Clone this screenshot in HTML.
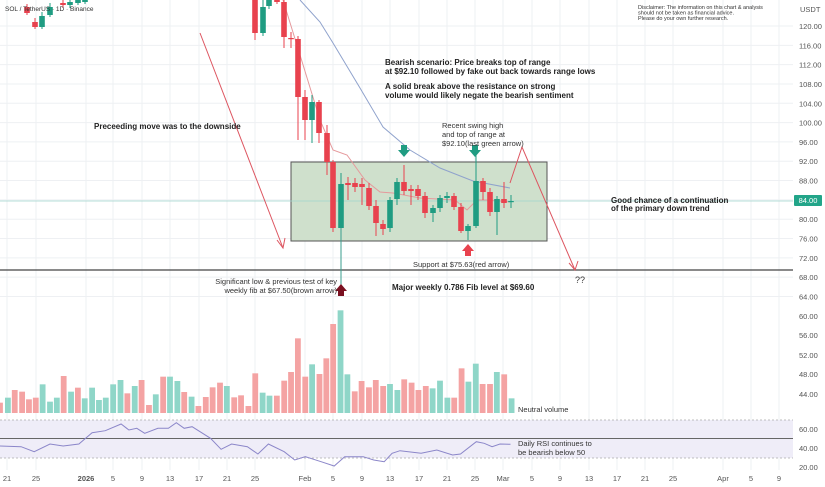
<!DOCTYPE html>
<html><head><meta charset="utf-8"><style>
html,body{margin:0;padding:0;background:#fff;width:825px;height:487px;overflow:hidden}
svg{display:block;font-family:"Liberation Sans",sans-serif}
.b{font-weight:bold;fill:#222;font-size:8px}
.n{fill:#333;font-size:7.5px}
.ax{fill:#555;font-size:7.5px}
</style></head><body>
<svg id="s" width="825" height="487" viewBox="0 0 825 487" xmlns="http://www.w3.org/2000/svg">
<g id="grid" stroke="#eef0f3" stroke-width="1"></g>
<rect x="0" y="420" width="793" height="38" fill="#efedf8"/>
<line x1="0" y1="420" x2="793" y2="420" stroke="#aaa" stroke-dasharray="2,2" stroke-width="0.8"/>
<line x1="0" y1="458" x2="793" y2="458" stroke="#aaa" stroke-dasharray="2,2" stroke-width="0.8"/>
<line x1="0" y1="438.5" x2="793" y2="438.5" stroke="#666" stroke-width="1"/>
<g id="vol"></g>
<rect x="291" y="162" width="256" height="79" fill="#cfe0cc" stroke="#555" stroke-width="1"/>
<line x1="0" y1="201" x2="793" y2="201" stroke="#9fd4cc" stroke-width="0.8"/>
<line x1="0" y1="270" x2="793" y2="270" stroke="#444" stroke-width="1.2"/>
<line x1="341" y1="228" x2="341" y2="290" stroke="#3a9e8e" stroke-width="1"/>
<polyline fill="none" stroke="#8fa2cc" stroke-width="1" points="300,0 320,22 333,43 360,88 383,127 410,150 440,168 473,181 510,188"/>
<polyline fill="none" stroke="#e5999c" stroke-width="1" points="283,0 300,55 320,120 333,150 347,155 365,180 380,192 393,193 420,198 455,200 467,210 477,200 490,200 510,202"/>
<g id="cd"></g>
<polyline fill="none" stroke="#dd5560" stroke-width="1" points="200,33 283,248"/>
<polyline fill="none" stroke="#dd5560" stroke-width="1" points="277,240 283,248 285,238"/>
<polyline fill="none" stroke="#dd5560" stroke-width="1" points="510,183 522,147 575,270"/>
<polyline fill="none" stroke="#dd5560" stroke-width="1" points="569,263 575,270 578,261"/>
<path d="M401,145h6v5h3l-6,7l-6,-7h3z" fill="#1f9c82"/>
<path d="M472,145h6v5h3l-6,7l-6,-7h3z" fill="#1f9c82"/>
<path d="M465,256h6v-5h3l-6,-7l-6,7h3z" fill="#e8424e"/>
<path d="M338,296h6v-5h3l-6,-7l-6,7h3z" fill="#7a1020"/>
<polyline id="rsi" fill="none" stroke="#8b86c9" stroke-width="1"/>
<text x="5" y="11" class="n" style="font-size:6.5px">SOL / TetherUS · 1D · Binance</text>
<text x="638" y="9" class="n" style="font-size:5.5px">Disclaimer: The information on this chart &amp; analysis</text>
<text x="638" y="14.5" class="n" style="font-size:5.5px">should not be taken as financial advice.</text>
<text x="638" y="20" class="n" style="font-size:5.5px">Please do your own further research.</text>
<text x="800" y="12" class="ax">USDT</text>
<text x="385" y="65" class="b">Bearish scenario: Price breaks top of range</text>
<text x="385" y="74" class="b">at $92.10 followed by fake out back towards range lows</text>
<text x="385" y="89" class="b">A solid break above the resistance on strong</text>
<text x="385" y="98" class="b">volume would likely negate the bearish sentiment</text>
<text x="94" y="129" class="b">Preceeding move was to the downside</text>
<text x="442" y="128" class="n">Recent swing high</text>
<text x="442" y="137" class="n">and top of range at</text>
<text x="442" y="146" class="n">$92.10(last green arrow)</text>
<text x="611" y="203" class="b">Good chance of a continuation</text>
<text x="611" y="211" class="b">of the primary down trend</text>
<text x="413" y="267" class="n">Support at $75.63(red arrow)</text>
<text x="337" y="284" class="n" text-anchor="end">Significant low &amp; previous test of key</text>
<text x="337" y="293" class="n" text-anchor="end">weekly fib at $67.50(brown arrow)</text>
<text x="392" y="290" class="b">Major weekly 0.786 Fib level at $69.60</text>
<text x="575" y="283" class="n" style="font-size:9px">??</text>
<text x="518" y="412" class="n">Neutral volume</text>
<text x="518" y="446" class="n">Daily RSI continues to</text>
<text x="518" y="455" class="n">be bearish below 50</text>
<g id="axis"></g>
<rect x="794" y="195" width="28" height="11" fill="#22a589" rx="1"/>
<text x="808" y="203" text-anchor="middle" style="font-size:7.5px;fill:#fff">84.00</text>
</svg>
<script>
var NS="http://www.w3.org/2000/svg";
function el(p,t,a,txt){var e=document.createElementNS(NS,t);for(var k in a)e.setAttribute(k,a[k]);if(txt)e.textContent=txt;document.getElementById(p).appendChild(e);return e;}
var dates=[[7,"21"],[36,"25"],[86,"2026"],[113,"5"],[142,"9"],[170,"13"],[199,"17"],[227,"21"],[255,"25"],[305,"Feb"],[333,"5"],[362,"9"],[390,"13"],[419,"17"],[447,"21"],[475,"25"],[503,"Mar"],[532,"5"],[560,"9"],[589,"13"],[617,"17"],[645,"21"],[673,"25"],[723,"Apr"],[751,"5"],[779,"9"]];
dates.forEach(function(d){el("grid","line",{x1:d[0],y1:0,x2:d[0],y2:470});var t=el("axis","text",{x:d[0],y:481,"text-anchor":"middle",class:"ax"},d[1]);if(d[1]=="2026")t.setAttribute("style","font-weight:bold");});
for(var p=120;p>=64;p-=4){var y=26+(120-p)*4.83;el("grid","line",{x1:0,y1:y,x2:793,y2:y});if(p!=84)el("axis","text",{x:799,y:y+3,class:"ax"},p.toFixed(2));}
[[60,316],[56,335],[52,355],[48,374],[44,394]].forEach(function(a){el("axis","text",{x:799,y:a[1]+3,class:"ax"},a[0].toFixed(2));});
[[60,429],[40,448],[20,467]].forEach(function(a){el("axis","text",{x:799,y:a[1]+3,class:"ax"},a[0].toFixed(2));});
var v="0r308 15g293 28r270 42r275 55r298 68r293 81g253 95g305 108g293 121r228 135g275 148r263 161g295 175g263 188g300 201g293 215g253 229g240 242r280 256g258 269r240 283r315 296g283 310r230 323g230 337g243 350r276 364g290 377r318 391r291 404r262 418r248 431g258 445r292 458r286 472r318 485r220 499g278 512g287 526r287 540r242 553r216 566r115 580r230 593g193 607r222 620r175 633r72 647g31 660g223 674r274 687r243 701r262 714r240 728r258 741g252 755g270 768r238 782r248 795r270 809r258 822g265 836g242 850g293 863r293 877r205 890g245 904g191 917r252 931r252 944g216 958r223 972g295".split(" ");
v.forEach(function(s){var m=s.match(/(\d+)([rg])(\d+)/);var x=m[1]/1.9,top=300+m[3]/3;el("vol","rect",{x:x-2.9,y:top,width:5.8,height:413-top,fill:m[2]=="r"?"#f4a3a3":"#8fd6c8"});});
var C=[[27,"r",7,13,4,15],[35,"r",22,27,18,29],[42,"g",16,27,12,29],[50,"g",7,15,3,17],[63,"r",3,5,0,8],[70,"g",2,5,0,8],[78,"g",0,3,0,5],[85,"g",0,2,0,4],
[255,"r",0,33,0,40],[263,"g",7,33,0,36],[269,"g",0,6,0,9],[277,"r",0,2,0,4],[284,"r",2,37,0,48],[291,"r",38,39,32,48],[298,"r",39,97,36,140],[305,"r",97,120,90,140],[312,"g",102,120,95,143],[319,"r",102,133,100,143],[327,"r",133,162,125,175],[333,"r",162,228,160,232],
[341,"g",184,228,173,228],[348,"r",183,185,177,200],[355,"r",183,187,178,192],[362,"r",184,187,178,205],[369,"r",188,206,183,210],[376,"r",206,223,200,236],[383,"r",224,229,220,235],[390,"g",200,228,197,232],[397,"g",182,199,178,205],[404,"r",182,191,165,195],[411,"r",189,191,185,205],[418,"r",189,196,185,200],[425,"r",196,213,192,218],[433,"g",208,213,205,222],[440,"g",198,208,195,212],[447,"g",196,198,192,203],[454,"r",196,207,193,210],[461,"r",207,231,203,233],[468,"g",226,231,224,240],[476,"g",181,226,150,228],[483,"r",181,192,178,200],[490,"r",192,212,188,216],[497,"g",199,212,196,235],[504,"r",199,203,182,208],[511,"g",201,202,195,208]];
C.forEach(function(c){var col=c[1]=="r"?"#e8424e":"#1f9c82";el("cd","line",{x1:c[0],y1:c[4],x2:c[0],y2:c[5],stroke:col,"stroke-width":1});el("cd","rect",{x:c[0]-2.8,y:c[2],width:5.6,height:Math.max(1.2,c[3]-c[2]),fill:col});});
var r=[[0,438],[40,440],[65,455],[95,432],[120,438],[150,432],[175,398],[200,392],[230,372],[245,390],[260,385],[275,400],[300,385],[320,385],[335,368],[350,385],[365,380],[400,415],[420,448],[440,432],[470,440],[490,462],[510,432],[540,455],[560,480],[580,470],[610,485],[635,498],[655,470],[690,470],[710,480],[730,485],[745,460],[760,452],[800,460],[830,450],[860,465],[875,462],[905,425],[920,430],[935,440],[950,432],[970,433]];
document.getElementById("rsi").setAttribute("points",r.map(function(a){return (a[0]/1.9).toFixed(1)+","+(300+a[1]/3).toFixed(1);}).join(" "));
</script>
</body></html>
